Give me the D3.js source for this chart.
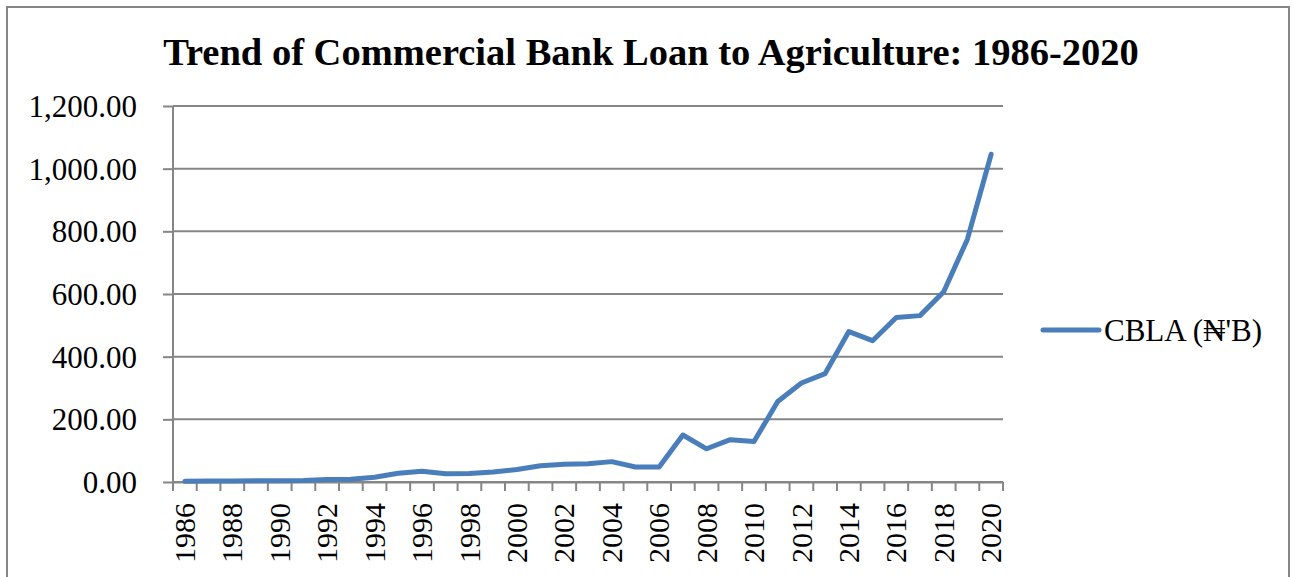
<!DOCTYPE html>
<html>
<head>
<meta charset="utf-8">
<script src="https://cdn.jsdelivr.net/npm/d3@7"></script>
<style>
  body { margin: 0; background: #fff; }
  svg text { font-family: "Times New Roman", "Liberation Serif", "DejaVu Serif", serif; fill: #000; }
</style>
</head>
<body>
<div class="chart"></div>
<script>
// data
const years = d3.range(1986, 2021);
const cbla = [2, 3, 3, 4, 4, 5, 8, 9, 15, 28,
              34, 26, 27, 32, 40, 52, 57, 58, 65, 48,
              48, 150, 106, 135, 129, 257, 316, 346, 480, 451,
              525, 531, 607, 775, 1046];
const yTicks = [0, 200, 400, 600, 800, 1000, 1200];
const seriesName = "CBLA (\u20A6'B)";
const title = "Trend of Commercial Bank Loan to Agriculture:  1986-2020";

const W = 1294, H = 577;
const margin = {top: 106, left: 173, right: 291, bottom: 95};
const grey = "#868686";
const blue = "#4a7ebb";

const svg = d3.select(".chart").append("svg")
    .attr("width", W)
    .attr("height", H);

// chart border
svg.append("rect")
    .attr("x", 7).attr("y", 7)
    .attr("width", 1282).attr("height", 600)
    .attr("fill", "none")
    .attr("stroke", grey)
    .attr("stroke-width", 2);

const xScale = d3.scaleBand()
    .domain(years)
    .range([margin.left, W - margin.right])
    .padding(0);

const yScale = d3.scaleLinear()
    .domain([0, 1200])
    .range([H - margin.bottom, margin.top]);

// gridlines
svg.append("g")
    .selectAll("line")
    .data(yTicks)
    .enter()
    .append("line")
    .attr("x1", margin.left)
    .attr("x2", W - margin.right)
    .attr("y1", d => yScale(d))
    .attr("y2", d => yScale(d))
    .attr("stroke", grey)
    .attr("stroke-width", 2);

// y axis
const yAxis = d3.axisLeft(yScale)
    .tickValues(yTicks)
    .tickFormat(d3.format(",.2f"))
    .tickSize(10)
    .tickPadding(26);

const gy = svg.append("g")
    .attr("class", "axis y-axis")
    .attr("transform", `translate(${margin.left},0)`)
    .call(yAxis);
gy.selectAll("path, line").attr("stroke", grey).attr("stroke-width", 2);
gy.select(".domain").attr("d", `M0,${yScale(1200)}V${yScale(0) + 9}`);
gy.selectAll("text").style("font-size", "31px").attr("dy", "0.34em");

// x axis: labels every other year, ticks between categories
const xAxis = d3.axisBottom(xScale)
    .tickValues(years.filter(y => y % 2 === 0))
    .tickSize(0)
    .tickSizeOuter(0);

const gx = svg.append("g")
    .attr("class", "axis x-axis")
    .attr("transform", `translate(0,${yScale(0)})`)
    .call(xAxis);
gx.select(".domain").attr("stroke", grey).attr("stroke-width", 2);
gx.selectAll("text")
    .style("font-size", "30px")
    .attr("text-anchor", "end")
    .attr("transform", "rotate(-90)")
    .attr("x", -21)
    .attr("y", 0)
    .attr("dy", "0.34em");

gx.append("g")
    .selectAll("line")
    .data(years.concat([years[years.length - 1] + 1]))
    .enter()
    .append("line")
    .attr("x1", (d, i) => margin.left + i * xScale.step())
    .attr("x2", (d, i) => margin.left + i * xScale.step())
    .attr("y1", 0)
    .attr("y2", 9)
    .attr("stroke", grey)
    .attr("stroke-width", 2);

// series line
const line = d3.line()
    .x((d, i) => xScale(years[i]) + xScale.bandwidth() / 2)
    .y(d => yScale(d));

svg.append("path")
    .datum(cbla)
    .attr("d", line)
    .attr("fill", "none")
    .attr("stroke", blue)
    .attr("stroke-width", 5)
    .attr("stroke-linejoin", "round")
    .attr("stroke-linecap", "round");

// title
svg.append("text")
    .attr("x", 651)
    .attr("y", 65)
    .attr("text-anchor", "middle")
    .style("font-size", "38.5px")
    .style("font-weight", "bold")
    .text(title);

// legend
const legend = svg.append("g")
    .attr("class", "legend")
    .attr("transform", "translate(1043,330)");
legend.append("line")
    .attr("x1", 0).attr("x2", 56)
    .attr("y1", 0).attr("y2", 0)
    .attr("stroke", blue)
    .attr("stroke-width", 5)
    .attr("stroke-linecap", "round");
legend.append("text")
    .attr("x", 61)
    .attr("y", 11)
    .style("font-size", "31px")
    .text(seriesName);
</script>
</body>
</html>
